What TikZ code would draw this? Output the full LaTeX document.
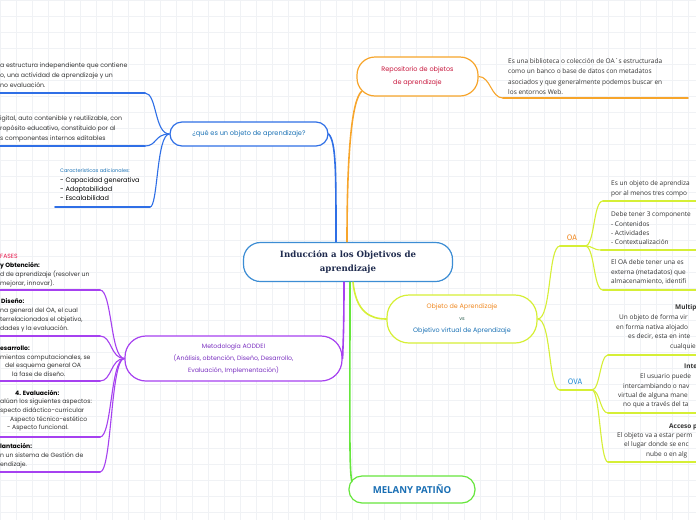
\documentclass[tikz,border=0pt]{standalone}
\usepackage{fontspec}
\setmainfont{Open Sans}
\newfontfamily\popf{Poppins}
\newfontfamily\firaf{Fira Sans}
\newfontfamily\dvserif{DejaVu Serif}
\definecolor{gridc}{HTML}{F0F2F5}
\definecolor{leafgray}{HTML}{333333}
\definecolor{cblue}{HTML}{3C8DD4}
\definecolor{navy}{HTML}{1F2B4E}
\definecolor{qblue}{HTML}{2F6FE6}
\definecolor{qtext}{HTML}{1B72B5}
\definecolor{orangeb}{HTML}{F7A52B}
\definecolor{crimson}{HTML}{C8173D}
\definecolor{limeb}{HTML}{D6EF36}
\definecolor{oatext}{HTML}{F08A24}
\definecolor{vsgreen}{HTML}{2B5E4F}
\definecolor{ovablue}{HTML}{2A8FD6}
\definecolor{purpleb}{HTML}{A641F0}
\definecolor{purplet}{HTML}{7A2FC0}
\definecolor{fasered}{HTML}{E8174A}
\definecolor{greenb}{HTML}{66E63C}
\definecolor{melblue}{HTML}{1A6FB4}
\newcounter{tl}
\newcommand\tline[4][]{\stepcounter{tl}\node[tx,#1] (t\arabic{tl}) at (#2,#3+1.6) {#4};}
\begin{document}
\begin{tikzpicture}[x=1pt,y=-1pt,
  tx/.style={inner sep=0pt, anchor=base west},
  pill/.style={draw, fill=white, line width=1.2pt, align=center, inner sep=0pt},
  conn/.style={line width=1.6pt, line cap=round},
  ul/.style={line width=1.8pt, line cap=round},
  br/.style={line width=1.1pt},
  lft/.style={font=\popf\fontsize{6.2}{7}\selectfont, text=leafgray},
  rgt/.style={font=\fontsize{6.5}{7}\selectfont, text=leafgray},
  plft/.style={font=\popf\fontsize{6.1}{7}\selectfont, text=leafgray},
  phead/.style={font=\popf\bfseries\fontsize{6.1}{7}\selectfont, text=black}]
\useasboundingbox (0,0) rectangle (696,520);
\fill[white] (0,0) rectangle (696,520);
\foreach \g in {0,16,...,696} \draw[gridc, line width=0.5pt] (\g,0) -- (\g,520);
\foreach \g in {0,16,...,520} \draw[gridc, line width=0.5pt] (0,\g) -- (696,\g);

% ---------- main nodes
\node[pill, draw=cblue, rounded corners=17pt, minimum width=209pt, minimum height=39pt,
  text=navy, font=\dvserif\bfseries\fontsize{8.6}{14}\selectfont] (c) at (348,262)
  {Inducción a los Objetivos de\\aprendizaje};
\node[pill, draw=qblue, rounded corners=12pt, minimum width=158pt, minimum height=24pt,
  text=qtext, font=\popf\fontsize{6.6}{8}\selectfont] (q) at (249,134)
  {¿qué es un objeto de aprendizaje?};
\node[pill, draw=orangeb, rounded corners=18pt, minimum width=121pt, minimum height=39pt,
  text=crimson, font=\popf\fontsize{6.5}{13}\selectfont] (r) at (417.5,76.5)
  {Repositorio de objetos\\de aprendizaje};
\node[pill, draw=limeb, rounded corners=22pt, minimum width=150pt, minimum height=48pt,
  font=\popf\fontsize{6.4}{12}\selectfont] (v) at (462,319)
  {\textcolor{oatext}{Objeto de Aprendizaje}\\\textcolor{vsgreen}{\fontsize{5}{12}\selectfont vs}\\\textcolor{qtext}{Objetivo virtual de Aprendizaje}};
\node[pill, draw=purpleb, rounded corners=21pt, minimum width=217pt, minimum height=45pt,
  text=purplet, font=\popf\fontsize{6.2}{12}\selectfont] (p) at (233.5,358.5)
  {Metodología AODDEI\\(Análisis, obtención, Diseño, Desarrollo,\\Evaluación, Implementación)};
\node[pill, draw=greenb, rounded corners=13pt, minimum width=126pt, minimum height=27pt,
  text=melblue, font=\bfseries\fontsize{9.6}{12}\selectfont] (m) at (412,489.5) {MELANY PATIÑO};
\node[inner sep=0pt, anchor=base, text=oatext, font=\firaf\fontsize{8}{9}\selectfont] (oa) at (572,240.5) {OA};
\node[inner sep=0pt, anchor=base, text=ovablue, font=\firaf\fontsize{8}{9}\selectfont] (ova) at (575,384.5) {OVA};

% ---------- main connectors
\draw[conn, qblue] ([xshift=-12pt]c.north) .. controls (336,170) and (336,142) .. (q.east);
\draw[conn, orangeb] ([xshift=-1pt]c.north) .. controls (347,150) and (352,100) .. ([xshift=5.3pt,yshift=5.3pt]r.south west);
\draw[conn, purpleb] ([xshift=-4pt]c.south) .. controls (344,330) and (343,345) .. (p.east);
\draw[conn, greenb] ([xshift=2pt]c.south) .. controls (350,420) and (349,470) .. ([xshift=3.5pt,yshift=8pt]m.west);
\draw[conn, limeb] ([xshift=5pt]c.south) .. controls (356,312) and (370,319) .. (v.west);

% ---------- blue branch leaves
\coordinate (qa1) at (0,93);   \coordinate (qb1) at (145,93);
\coordinate (qa2) at (0,146);  \coordinate (qb2) at (145,146);
\coordinate (qa3) at (55,207); \coordinate (qb3) at (150,207);
\draw[ul, qblue] (qa1) -- (qb1);
\draw[ul, qblue] (qa2) -- (qb2);
\draw[ul, qblue] (qa3) -- (qb3);
\draw[br, qblue] (qb1) .. controls +(12,0) and +(-15,0) .. (q.west);
\draw[br, qblue] (qb2) .. controls +(12,0) and +(-15,0) .. (q.west);
\draw[br, qblue] (qb3) .. controls +(8,0) and +(-13,0) .. (q.west);
\begin{scope}[lft]
\tline{0}{66}{a estructura independiente que contiene}
\tline{0}{76}{o, una actividad de aprendizaje y un}
\tline{0}{86}{no evaluación.}
\tline{0}{119}{igital, auto contenible y reutilizable, con}
\tline{0}{129}{ropósito educativo, constituido por al}
\tline{0}{139}{s componentes internos editables}
\end{scope}
\tline[font=\popf\fontsize{5}{6}\selectfont, text=qtext]{60}{171}{Características adicionales:}
\begin{scope}[font=\popf\fontsize{6.5}{8}\selectfont, text=black]
\tline{60}{181}{- Capacidad generativa}
\tline{60}{190}{- Adaptabilidad}
\tline{60}{199}{- Escalabilidad}
\end{scope}

% ---------- repository leaf
\coordinate (ra) at (503,98); \coordinate (rb) at (688,98);
\draw[ul, orangeb] (ra) -- (rb);
\draw[br, orangeb] (r.east) .. controls +(12,0) and +(-12,0) .. (ra);
\begin{scope}[rgt]
\tline{508}{62}{Es una biblioteca o colección de OA´s estructurada}
\tline{508}{72.3}{como un banco o base de datos con metadatos}
\tline{508}{82.6}{asociados y que generalmente podemos buscar en}
\tline{508}{92.9}{los entornos Web.}
\end{scope}

% ---------- OA / OVA
\coordinate (oaa) at (560,246); \coordinate (oab) at (585,246);
\coordinate (ovaa) at (560,390); \coordinate (ovab) at (592,390);
\draw[ul, limeb] (oaa) -- (oab);
\draw[ul, limeb] (ovaa) -- (ovab);
\draw[br, limeb] (v.east) .. controls +(14,0) and +(-12,0) .. (oaa);
\draw[br, limeb] (v.east) .. controls +(14,0) and +(-12,0) .. (ovaa);
\coordinate (l1a) at (603,201); \coordinate (l1b) at (696,201);
\coordinate (l2a) at (601,250); \coordinate (l2b) at (696,250);
\coordinate (l3a) at (603,290); \coordinate (l3b) at (696,290);
\draw[ul, limeb] (l1a) -- (l1b);
\draw[ul, limeb] (l2a) -- (l2b);
\draw[ul, limeb] (l3a) -- (l3b);
\draw[br, limeb] (oab) .. controls +(10,0) and +(-10,0) .. (l1a);
\draw[br, limeb] (oab) .. controls +(8,0) and +(-8,0) .. (l2a);
\draw[br, limeb] (oab) .. controls +(10,0) and +(-10,0) .. (l3a);
\coordinate (m1a) at (608,355); \coordinate (m1b) at (696,355);
\coordinate (m2a) at (608,413); \coordinate (m2b) at (696,413);
\coordinate (m3a) at (608,462); \coordinate (m3b) at (696,462);
\draw[ul, limeb] (m1a) -- (m1b);
\draw[ul, limeb] (m2a) -- (m2b);
\draw[ul, limeb] (m3a) -- (m3b);
\draw[br, limeb] (ovab) .. controls +(8,0) and +(-8,0) .. (m1a);
\draw[br, limeb] (ovab) .. controls +(8,0) and +(-8,0) .. (m2a);
\draw[br, limeb] (ovab) .. controls +(8,0) and +(-8,0) .. (m3a);
\begin{scope}[rgt]
\tline{611}{184}{Es un objeto de aprendiza}
\tline{611}{194}{por al menos tres compo}
\tline{611}{215}{Debe tener 3 componente}
\tline{611}{224.5}{- Contenidos}
\tline{611}{233.5}{- Actividades}
\tline{611}{243}{- Contextualización}
\tline{611}{263}{El OA  debe tener una es}
\tline{611}{272.5}{externa (metadatos) que}
\tline{611}{282}{almacenamiento, identifi}
\tline[font=\bfseries\fontsize{6.5}{7}\selectfont]{675}{308}{Multip}
\tline{619}{318}{Un objeto de forma vir}
\tline{616}{327.5}{en forma nativa alojado}
\tline{628}{337}{es decir, esta en inte}
\tline{670}{346.5}{cualquie}
\tline[font=\bfseries\fontsize{6.5}{7}\selectfont]{684}{367}{Inte}
\tline{640}{377}{El usuario puede}
\tline{623}{386.5}{intercambiando o nav}
\tline{618}{396}{virtual de alguna mane}
\tline{623}{405}{no que a través del ta}
\tline[font=\bfseries\fontsize{6.5}{7}\selectfont]{669}{426.5}{Acceso p}
\tline{617}{436}{El objeto va a estar perm}
\tline{624}{445}{el lugar donde se enc}
\tline{646}{454.5}{nube o en alg}
\end{scope}

% ---------- purple leaves
\foreach \yy [count=\k] in {290,336,381,437,472} {
  \coordinate (pa\k) at (0,\yy); \coordinate (pb\k) at (100,\yy);
  \draw[ul, purpleb] (pa\k) -- (pb\k);
  \draw[br, purpleb] (pb\k) .. controls +(12,0) and +(-14,0) .. (p.west);
}
\begin{scope}[plft]
\tline[text=fasered]{0}{256.5}{FASES}
\tline[phead]{0}{265.5}{y Obtención:}
\tline{0}{274.5}{d de aprendizaje (resolver un}
\tline{0}{283.5}{mejorar, innovar).}
\tline[phead]{1}{302}{Diseño:}
\tline{0}{311}{na general del OA, el cual}
\tline{0}{320}{terrelacionados el objetivo,}
\tline{0}{329}{dades y la evaluación.}
\tline[phead]{0}{348.5}{esarrollo:}
\tline{0}{357.5}{mientas computacionales, se}
\tline{5}{366}{del esquema general OA}
\tline{12}{374.5}{la fase de diseño.}
\tline[phead]{15}{393.5}{4. Evaluación:}
\tline{0}{402}{alúan los siguientes aspectos:}
\tline{0}{411}{specto didáctico-curricular}
\tline{10}{419.5}{Aspecto técnico-estético}
\tline{7}{428}{- Aspecto funcional.}
\tline[phead]{0}{447}{lantación:}
\tline{0}{456}{n un sistema de Gestión de}
\tline{0}{464.5}{endizaje.}
\end{scope}
\end{tikzpicture}
\end{document}
